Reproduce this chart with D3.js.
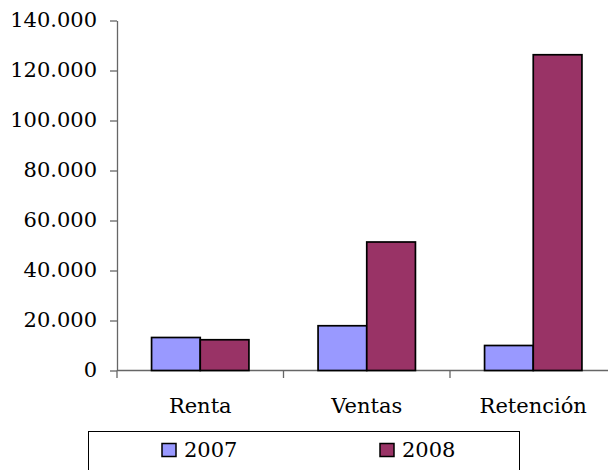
<!DOCTYPE html>
<html lang="es">
<head>
<meta charset="utf-8">
<script src="https://d3js.org/d3.v7.min.js"></script>
<title>Renta, Ventas, Retención</title>
<style>
    body { margin: 0; background: #fff; }
    svg text { font-family: "DejaVu Serif", serif; font-size: 21px; fill: #000; }
</style>
</head>
<body>
<div id="container"></div>
<script>
    // data
    var categories = ["Renta", "Ventas", "Retención"];
    var years = ["2007", "2008"];
    var values2007 = [13200, 17900, 10000];
    var values2008 = [12300, 51400, 126300];
    var yTicks = [0, 20000, 40000, 60000, 80000, 100000, 120000, 140000];
    var colours = ["#9999ff", "#993366"];

    var width = 608, height = 470;
    var svg = d3.select("#container")
        .append("svg")
        .attr("width", width)
        .attr("height", height);

    var es = d3.formatLocale({decimal: ",", thousands: ".", grouping: [3], currency: ["", " €"]});
    var fmt = es.format(",");

    var x0 = d3.scaleBand()
        .domain(categories)
        .range([117, 616.5]);
    var x1 = d3.scaleBand()
        .domain(years)
        .range([0, x0.bandwidth()])
        .paddingInner(0)
        .paddingOuter(0.71);
    var y = d3.scaleLinear()
        .domain([0, 140000])
        .range([370.5, 20.5]);

    // y axis
    var yAxis = svg.append("g")
        .attr("transform", "translate(117,0)")
        .call(d3.axisLeft(y).tickValues(yTicks).tickFormat(fmt).tickSize(7).tickSizeOuter(0).tickPadding(13));
    yAxis.selectAll("line, path").attr("stroke", "#666").attr("stroke-width", 1.3);
    yAxis.selectAll("text").attr("font-size", null).attr("font-family", null).attr("dy", "0.3em");

    // x axis line and category separators
    svg.append("line")
        .attr("x1", 117).attr("x2", width)
        .attr("y1", y(0)).attr("y2", y(0))
        .attr("stroke", "#666").attr("stroke-width", 1.3);
    svg.append("g").selectAll("line")
        .data(categories.concat(["end"]))
        .enter()
        .append("line")
        .attr("x1", function(d, i) { return i < 3 ? x0(d) : x0(categories[2]) + x0.step(); })
        .attr("x2", function(d, i) { return i < 3 ? x0(d) : x0(categories[2]) + x0.step(); })
        .attr("y1", y(0)).attr("y2", y(0) + 7.5)
        .attr("stroke", "#666").attr("stroke-width", 1.3);

    var rows = categories.map(function(c, i) {
        return {cat: c, vals: [{year: years[0], v: values2007[i]}, {year: years[1], v: values2008[i]}]};
    });

    svg.append("g").selectAll("g")
        .data(rows)
        .enter()
        .append("g")
        .attr("transform", function(d) { return "translate(" + x0(d.cat) + ",0)"; })
        .selectAll("rect")
        .data(function(d) { return d.vals; })
        .enter()
        .append("rect")
        .attr("x", function(d) { return x1(d.year); })
        .attr("width", x1.bandwidth())
        .attr("y", function(d) { return y(d.v); })
        .attr("height", function(d) { return y(0) - y(d.v); })
        .attr("fill", function(d, i) { return colours[i]; })
        .attr("stroke", "#000")
        .attr("stroke-width", 1.7);

    svg.append("g").selectAll("text")
        .data(categories)
        .enter()
        .append("text")
        .attr("x", function(d) { return x0(d) + x0.bandwidth() / 2; })
        .attr("y", 413)
        .attr("text-anchor", "middle")
        .text(function(d) { return d; });

    // legend
    var legend = svg.append("g");
    legend.append("rect")
        .attr("x", 88.5).attr("y", 431.5)
        .attr("width", 431).attr("height", 60)
        .attr("fill", "none").attr("stroke", "#000").attr("stroke-width", 1);
    var lx = [162, 380];
    var item = legend.selectAll("g.item")
        .data(years)
        .enter()
        .append("g")
        .attr("class", "item")
        .attr("transform", function(d, i) { return "translate(" + lx[i] + ",443.5)"; });
    item.append("rect")
        .attr("width", 14).attr("height", 13)
        .attr("fill", function(d, i) { return colours[i]; })
        .attr("stroke", "#000").attr("stroke-width", 1.5);
    item.append("text")
        .attr("x", 22).attr("y", 13)
        .text(function(d) { return d; });
</script>
</body>
</html>
